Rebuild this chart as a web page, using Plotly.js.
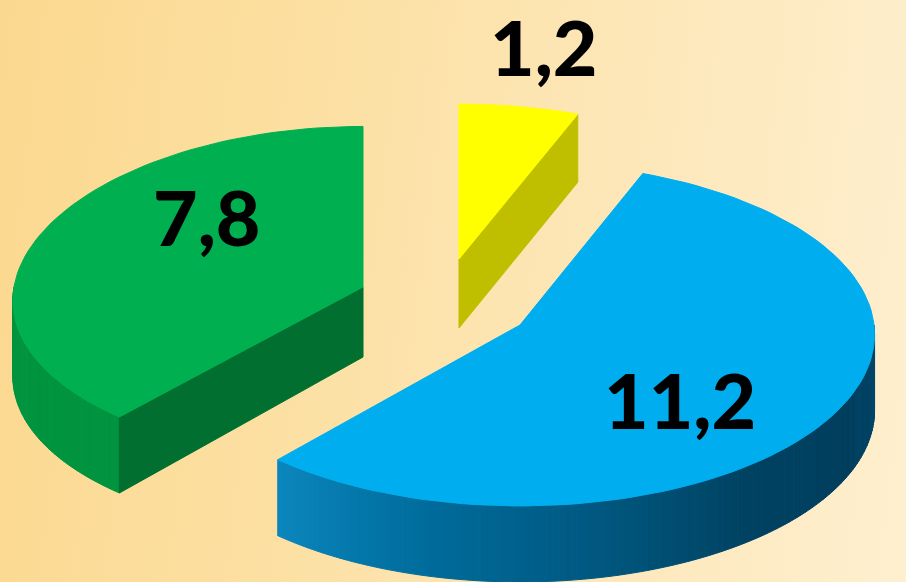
<!DOCTYPE html>
<html><head><meta charset="utf-8">
<script src="https://cdn.plot.ly/plotly-3.0.1.min.js"></script>
<style>
html,body{margin:0;padding:0;width:906px;height:582px;overflow:hidden;
background:linear-gradient(97deg,#fbd88f 0%,#fce0a3 35%,#fde7b8 65%,#feefcf 100%);}
#c{width:906px;height:582px}
</style></head><body><div id="c"></div>
<script>
// chart data, clockwise from 12 o'clock
const values = [1.2, 11.2, 7.8];
const valueLabels = ['1,2', '11,2', '7,8'];
const topColors = ['#FFFF00', '#00ADEF', '#00B050'];
const cutColors = ['#BFBF00', null, '#006F2F'];
const rimColors = [null, null, '#00943F'];
const blueRimStops = [[11,134,190],[0,108,156],[0,88,128],[0,66,98],[0,62,94],[0,72,108]];

// projection of each exploded slice
const geom = [
  {cx:459,cy:259,rx:350,ry:165,kx:.08,ky:.065,d:68,dA:69},
  {cx:520,cy:325,rx:354,ry:171,kx:.055,ky:.055,d:76,dA:76},
  {cx:363,cy:287,rx:349,ry:167,kx:.08,ky:.04,d:76,dA:70}
];
const labelPos = [[544,46],[680,399],[207,216]];
const labelSize = 77;

function P(g,deg){
  const a=deg*Math.PI/180,u=Math.sin(a),v=Math.cos(a);
  return [g.cx+g.rx*u/(1+g.kx*v), g.cy-g.ry*v/(1+g.ky*v)];
}
function poly(xs,ys,color){
  return {type:'scatter',mode:'lines',x:xs,y:ys,fill:'toself',fillcolor:color,
    line:{color:color,width:1},hoverinfo:'skip',showlegend:false};
}
function mix(t){
  const n=blueRimStops.length-1,i=Math.min(n-1,Math.floor(t*n)),f=t*n-i;
  const A=blueRimStops[i],B=blueRimStops[i+1];
  return 'rgb('+A.map((c,j)=>Math.round(c+(B[j]-c)*f)).join(',')+')';
}
const total=values.reduce((a,b)=>a+b,0);
const traces=[];
let start=0;
values.forEach((val,i)=>{
  const g=geom[i],end=start+val/total*360,span=end-start;
  // outer wall: only the front half (90..270 deg) is visible
  const a0=Math.max(start,90),a1=Math.min(end,270);
  if(a1>a0){
    const n=Math.ceil((a1-a0)/1);
    for(let k=0;k<n;k++){
      const p=a0+(a1-a0)*k/n,q=a0+(a1-a0)*(k+1)/n;
      const A=P(g,p),B=P(g,q);
      const col=rimColors[i]||mix(1-(k+.5)/n);
      traces.push(poly([A[0],B[0],B[0],A[0],A[0]],[A[1],B[1],B[1]+g.d,A[1]+g.d,A[1]],col));
    }
  }
  // cut face that looks toward the viewer
  if(cutColors[i]){
    const edge=(i===0)?end:start;
    const E=P(g,edge);
    traces.push(poly([g.cx,E[0],E[0],g.cx,g.cx],[g.cy,E[1],E[1]+g.d,g.cy+g.dA,g.cy],cutColors[i]));
  }
  // top face
  const xs=[g.cx],ys=[g.cy];
  const m=Math.ceil(span/2);
  for(let k=0;k<=m;k++){const p=P(g,start+span*k/m);xs.push(p[0]);ys.push(p[1]);}
  xs.push(g.cx);ys.push(g.cy);
  traces.push(poly(xs,ys,topColors[i]));
  start=end;
});
const annotations=valueLabels.map((t,i)=>({
  x:labelPos[i][0],y:labelPos[i][1],xref:'x',yref:'y',text:t,showarrow:false,
  xanchor:'center',yanchor:'middle',font:{family:'Lato, "Open Sans", sans-serif',size:labelSize,weight:900,color:'#000'}
}));
Plotly.newPlot('c',traces,{
  width:906,height:582,margin:{l:0,r:0,t:0,b:0},
  paper_bgcolor:'rgba(0,0,0,0)',plot_bgcolor:'rgba(0,0,0,0)',showlegend:false,
  xaxis:{range:[0,906],visible:false,fixedrange:true},
  yaxis:{range:[582,0],visible:false,fixedrange:true},
  annotations:annotations
},{staticPlot:true,displayModeBar:false});
</script></body></html>
